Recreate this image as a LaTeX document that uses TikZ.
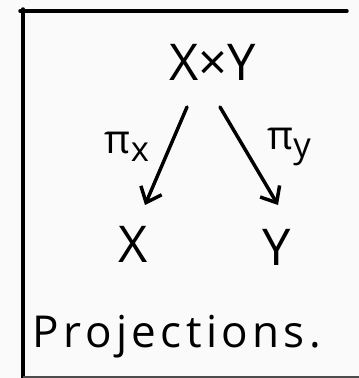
\documentclass[tikz,border=0pt]{standalone}
\usepackage{fontspec}
\setmainfont{Open Sans}
\usetikzlibrary{arrows.meta}
\begin{document}
\begin{tikzpicture}[x=0.75pt,y=-0.75pt,
  ink/.style={line width=2.6pt,line cap=round,black},
  lbl/.style={inner sep=0pt,font=\fontsize{38}{40}\selectfont},
  pilbl/.style={inner sep=0pt,font=\fontsize{30}{32}\selectfont},
  arr/.style={ink,-{Straight Barb[length=10pt,width=17pt,line width=2.6pt]}}]
\fill[white!98!black] (0,0) rectangle (359,378);
\useasboundingbox (0,0) rectangle (359,378);
\coordinate (tl) at (20,11);
\coordinate (tr) at (347,11);
\coordinate (lt) at (23,9);
\coordinate (lb) at (23,378);
\coordinate (bl) at (23,377);
\coordinate (br) at (359,377);
\draw[ink] (tl) -- (tr);
\draw[ink] (lt) -- (lb);
\draw[line width=1pt,black!70] (bl) -- (br);
\node[lbl] (xy) at (213,62) {X×Y};
\node[lbl] (x) at (133,244) {X};
\node[lbl] (y) at (277,247) {Y};
\coordinate (a1) at (187,107);
\coordinate (a1e) at (145,205);
\coordinate (a2) at (220,107);
\coordinate (a2e) at (278,205);
\draw[arr] (a1) -- (a1e);
\draw[arr] (a2) -- (a2e);
\node[pilbl] (px) at (127,147) {π{\fontsize{26}{28}\selectfont\raisebox{-6pt}{x}}};
\node[pilbl] (py) at (289,147) {π{\fontsize{26}{28}\selectfont\raisebox{-6pt}{y}}};
\node[inner sep=0pt,anchor=base,font=\fontsize{33}{35}\selectfont\addfontfeature{LetterSpace=10}] (proj) at (177,347) {Projections.};
\end{tikzpicture}
\end{document}
